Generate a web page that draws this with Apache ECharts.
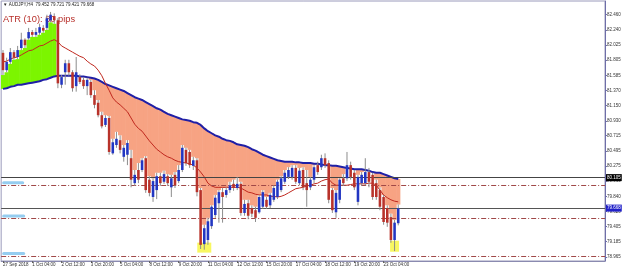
<!DOCTYPE html>
<html><head><meta charset="utf-8">
<script src="https://cdn.jsdelivr.net/npm/echarts@6/dist/echarts.min.js"></script>
<style>html,body{margin:0;padding:0;background:#fff}#c{width:625px;height:268px}</style>
</head><body><div id="c"></div>
<script>
const headerText = '\u25BC AUDJPY,H4  79.452 79.721 79.421 79.668';
const atrText = 'ATR (10): 80 pips';
const tickLabels = ['27 Sep 2018','1 Oct 04:00','2 Oct 12:00','3 Oct 20:00','5 Oct 04:00','8 Oct 12:00','9 Oct 20:00','11 Oct 04:00','12 Oct 12:00','15 Oct 20:00','17 Oct 04:00','18 Oct 12:00','19 Oct 20:00','23 Oct 04:00'];
const barsPerLabel = 8;
const slotCount = 165;
const priceTicks = [82.460,82.240,82.025,81.805,81.585,81.370,81.150,80.930,80.715,80.495,80.275,80.060,79.840,79.620,79.405,79.185,78.965];
const priceMin = 78.907, priceMax = 82.658;

const opens = [81.91,81.66,81.78,81.92,81.85,81.98,82.10,82.12,82.21,82.17,
82.20,82.27,82.27,82.38,82.44,82.38,81.45,81.63,81.76,81.63,
81.43,81.56,81.52,81.43,81.49,81.30,81.19,81.01,80.87,80.97,
80.46,80.58,80.65,80.41,80.44,80.39,80.03,80.22,80.22,80.39,
80.08,79.83,79.93,80.13,80.05,80.13,79.97,80.15,80.06,80.22,
80.51,80.48,80.28,80.36,79.93,79.15,79.21,79.41,79.57,79.74,
79.90,79.86,79.93,80.02,79.96,80.02,79.60,79.74,79.67,79.64,
79.61,79.69,79.79,79.71,79.79,79.83,79.93,80.05,80.12,80.12,
80.25,80.03,80.22,80.03,79.97,80.08,80.29,80.26,80.39,80.32,
79.93,79.61,79.79,80.10,80.10,80.29,80.18,79.76,80.03,80.03,
80.19,80.15,80.03,79.93,79.83,79.67,79.54,79.21,79.452];
const closes = [81.66,81.78,81.92,81.84,81.95,82.10,82.02,82.21,82.17,82.21,
82.28,82.23,82.41,82.46,82.38,81.47,81.56,81.76,81.63,81.40,
81.63,81.49,81.43,81.52,81.30,81.16,81.01,80.85,80.97,80.48,
80.62,80.67,80.51,80.54,80.61,80.08,80.15,80.08,80.36,79.93,
79.89,80.06,80.13,80.03,80.16,80.03,80.10,80.00,80.22,80.54,
80.32,80.29,80.36,79.90,79.14,79.38,79.48,79.69,79.82,79.90,
79.83,79.93,80.00,79.96,80.02,79.60,79.73,79.56,79.59,79.53,
79.83,79.90,79.69,79.86,79.96,80.05,80.10,80.18,80.22,80.25,
80.05,80.21,79.97,79.93,80.08,80.26,80.19,80.39,80.29,79.79,
79.64,79.89,80.08,80.03,80.29,80.12,79.97,80.12,80.15,80.19,
80.05,79.83,79.83,79.69,79.47,79.46,79.21,79.46,79.668];
const lows = [81.59,81.63,81.75,81.81,81.82,81.95,81.98,82.10,82.14,82.14,
82.17,82.20,82.24,82.35,82.33,81.40,81.40,81.45,81.58,81.35,
81.35,81.46,81.39,81.30,81.26,81.11,80.98,80.82,80.84,80.44,
80.44,80.54,80.46,80.34,80.29,79.97,79.99,80.03,80.19,79.89,
79.84,79.76,79.80,79.99,80.02,79.99,79.83,79.96,80.03,80.19,
80.28,80.25,80.22,79.84,79.08,79.07,79.14,79.37,79.53,79.46,
79.46,79.82,79.89,79.92,79.93,79.56,79.56,79.51,79.54,79.47,
79.59,79.66,79.66,79.67,79.76,79.80,79.90,80.02,80.09,80.08,
80.02,80.00,79.93,79.69,79.93,80.03,80.15,80.22,80.25,79.74,
79.60,79.53,79.74,79.99,80.06,80.08,79.93,79.71,79.99,80.00,
79.97,79.79,79.79,79.64,79.43,79.40,79.17,79.05,79.421];
const highs = [81.95,81.84,81.98,81.95,82.01,82.20,82.12,82.27,82.24,82.27,
82.33,82.31,82.46,82.50,82.48,82.41,81.59,81.81,81.81,81.66,
81.85,81.60,81.56,81.55,81.52,81.37,81.23,81.06,81.01,81.00,
80.67,80.77,80.72,80.58,80.65,80.51,80.22,80.32,80.39,80.42,
80.13,80.10,80.18,80.18,80.21,80.16,80.15,80.19,80.29,80.58,
80.54,80.51,80.41,80.39,79.96,79.43,79.53,79.71,79.86,79.93,
79.96,79.97,80.05,80.08,80.12,80.05,79.79,79.79,79.71,79.69,
79.86,79.93,79.83,79.89,80.00,80.08,80.13,80.22,80.26,80.29,
80.29,80.25,80.26,80.22,80.12,80.29,80.34,80.44,80.46,80.36,
79.96,79.93,80.10,80.16,80.48,80.34,80.22,80.15,80.19,80.39,
80.25,80.18,80.08,79.97,79.86,79.71,79.59,79.50,79.721];
const maSlow = [81.39,81.40,81.42,81.43,81.45,81.45,81.46,81.47,81.48,81.49,
81.50,81.52,81.53,81.55,81.57,81.58,81.58,81.58,81.58,81.58,
81.58,81.57,81.57,81.56,81.55,81.54,81.52,81.49,81.46,81.44,
81.42,81.40,81.38,81.36,81.33,81.30,81.27,81.25,81.23,81.20,
81.17,81.14,81.11,81.09,81.06,81.03,81.01,80.99,80.97,80.95,
80.94,80.93,80.91,80.90,80.87,80.82,80.78,80.75,80.72,80.70,
80.67,80.65,80.64,80.62,80.59,80.58,80.57,80.55,80.52,80.50,
80.47,80.44,80.42,80.40,80.38,80.36,80.35,80.34,80.34,80.34,
80.33,80.33,80.32,80.32,80.32,80.31,80.31,80.30,80.29,80.29,
80.28,80.28,80.27,80.26,80.25,80.24,80.23,80.23,80.23,80.22,
80.21,80.19,80.18,80.18,80.16,80.14,80.12,80.10,80.09];
const maFast = [81.78,81.79,81.82,81.84,81.85,81.88,81.91,81.94,81.95,81.98,
82.01,82.02,82.05,82.08,82.10,82.07,82.01,81.98,81.95,81.92,
81.89,81.86,81.84,81.79,81.75,81.72,81.66,81.58,81.47,81.37,
81.26,81.20,81.16,81.11,81.06,80.97,80.88,80.82,80.78,80.71,
80.64,80.58,80.52,80.48,80.44,80.41,80.39,80.36,80.34,80.33,
80.32,80.31,80.29,80.25,80.19,80.12,80.03,79.99,79.97,79.97,
79.97,79.97,79.97,79.97,79.97,79.96,79.93,79.90,79.89,79.87,
79.86,79.86,79.86,79.84,79.84,79.83,79.84,79.86,79.89,79.92,
79.95,79.96,79.97,79.99,80.00,80.02,80.03,80.06,80.08,80.09,
80.03,80.00,80.00,80.00,80.00,80.01,80.02,80.02,80.02,80.02,
80.03,80.03,80.00,79.93,79.86,79.82,79.79,79.77,79.76];
const levelLine = 80.105;
const bidLine = 79.668;
const dashLevels = [79.999, 79.523, 78.979];
const highlightIdx = [55, 107];
const highlightVal = [79.10, 79.12];

const SMALL = 4.5;
const FONT = 'Liberation Sans, Arial, sans-serif';
const slots = Array.from({length: slotCount}, (_, i) => String(i));
const showIdx = (idx) => idx % barsPerLabel === 0 && idx / barsPerLabel < tickLabels.length;

const candleData = opens.map((o, i) => [i, o, closes[i], lows[i], highs[i]]);
const fillData = maSlow.map((m, i) => [i, m, lows[i], highs[i]]);

const chart = echarts.init(document.getElementById('c'), null, {renderer: 'canvas'});
const blob = (w) => ({show: true, position: 'insideStartTop', distance: 1, formatter: ' ', width: w, height: 3,
  backgroundColor: '#95cdf0', borderRadius: 2, padding: 0, fontSize: 3});
chart.setOption({
  animation: false,
  backgroundColor: '#ffffff',
  textStyle: {fontFamily: FONT},
  graphic: [
    {type: 'text', left: 3, top: 2, z: 0, style: {text: headerText, fontSize: SMALL, fill: '#222', fontFamily: FONT}},
    {type: 'text', left: 3, top: 15, z: 0, style: {text: atrText, fontSize: 9.3, fill: '#b8312c', fontFamily: FONT}}
  ],
  grid: {left: 0, right: 20, top: 1, bottom: 7, show: true, borderColor: '#9a9abb', borderWidth: 1},
  xAxis: {
    type: 'category', data: slots, boundaryGap: true,
    axisLine: {show: true, lineStyle: {color: '#8a8ab0'}},
    axisTick: {show: true, interval: showIdx, alignWithLabel: true, length: 2, lineStyle: {color: '#666'}},
    axisLabel: {interval: showIdx, formatter: (v, idx) => tickLabels[idx / barsPerLabel] || '',
      align: 'left', fontSize: SMALL, margin: 1, color: '#333', fontFamily: FONT},
    splitLine: {show: false}
  },
  yAxis: {
    type: 'value', position: 'right', min: priceMin, max: priceMax, scale: true,
    axisLine: {show: true, lineStyle: {color: '#6e6ea8'}},
    axisTick: {show: true, customValues: priceTicks, length: 2, lineStyle: {color: '#6e6ea8'}},
    axisLabel: {customValues: priceTicks, formatter: v => v.toFixed(3), fontSize: SMALL, margin: 2, color: '#333', fontFamily: FONT},
    splitLine: {show: false}
  },
  series: [
    {
      type: 'custom', name: 'gap', z: 1, clip: true,
      data: fillData, encode: {x: 0, y: [1, 2, 3]},
      renderItem(params, api) {
        const i = api.value(0), m = api.value(1), l = api.value(2), h = api.value(3);
        let a, col;
        if (h < m) { a = h; col = '#f7a383'; }
        else if (l > m) { a = l; col = '#7cf500'; }
        else return {type: 'group', children: []};
        const p1 = api.coord([i, m]), p2 = api.coord([i, a]);
        const w = api.size([1, 0])[0];
        return {type: 'rect', shape: {x: p1[0] - w / 2 - 0.3, y: Math.min(p1[1], p2[1]), width: w + 0.6, height: Math.abs(p1[1] - p2[1])},
          style: {fill: col}};
      }
    },
    {
      type: 'scatter', name: 'highlight', z: 2, symbol: 'rect',
      data: [
        {value: [highlightIdx[0], highlightVal[0]], symbolSize: [14, 10]},
        {value: [highlightIdx[1], highlightVal[1]], symbolSize: [9, 11]}
      ],
      itemStyle: {color: '#f6f53a'}
    },
    {
      type: 'line', name: 'slow', data: maSlow, symbol: 'none', z: 3,
      lineStyle: {color: '#1f1fa6', width: 2},
      markLine: {
        symbol: 'none', silent: true, animation: false,
        data: [
          {yAxis: levelLine, lineStyle: {color: '#444', type: 'solid', width: 1},
            label: {show: true, position: 'end', distance: 1, formatter: levelLine.toFixed(3), backgroundColor: '#000', color: '#fff', fontSize: SMALL, padding: [1, 1], fontFamily: FONT}},
          {yAxis: bidLine, lineStyle: {color: '#555', type: 'solid', width: 1},
            label: {show: true, position: 'end', distance: 1, formatter: bidLine.toFixed(3), backgroundColor: '#2020c8', color: '#fff', fontSize: SMALL, padding: [1, 1], fontFamily: FONT}},
          {yAxis: dashLevels[0], lineStyle: {color: '#a04848', type: [5, 2, 1, 2], width: 1}, label: blob(22)},
          {yAxis: dashLevels[1], lineStyle: {color: '#a04848', type: [5, 2, 1, 2], width: 1}, label: blob(23)},
          {yAxis: dashLevels[2], lineStyle: {color: '#a04848', type: [5, 2, 1, 2], width: 1}, label: blob(23)}
        ]
      }
    },
    {
      type: 'line', name: 'fast', data: maFast, symbol: 'none', z: 3,
      lineStyle: {color: '#c0281e', width: 1}
    },
    {
      type: 'custom', name: 'candles', z: 5, clip: true,
      data: candleData, encode: {x: 0, y: [1, 2, 3, 4]},
      renderItem(params, api) {
        const i = api.value(0), o = api.value(1), c = api.value(2), l = api.value(3), h = api.value(4);
        const pO = api.coord([i, o]), pC = api.coord([i, c]);
        const yL = api.coord([i, l])[1], yH = api.coord([i, h])[1];
        const x = pO[0];
        const w = Math.max(2, api.size([1, 0])[0] * 0.7);
        const up = c >= o;
        const top = Math.min(pO[1], pC[1]);
        const bh = Math.max(1, Math.abs(pO[1] - pC[1]));
        return {type: 'group', children: [
          {type: 'line', shape: {x1: x, y1: yH, x2: x, y2: yL}, style: {stroke: '#8c8c8c', lineWidth: 1}},
          {type: 'rect', shape: {x: x - w / 2, y: top, width: w, height: bh}, style: {fill: up ? '#2236c2' : '#b8322a'}}
        ]};
      }
    }
  ]
});
</script>
</body></html>
